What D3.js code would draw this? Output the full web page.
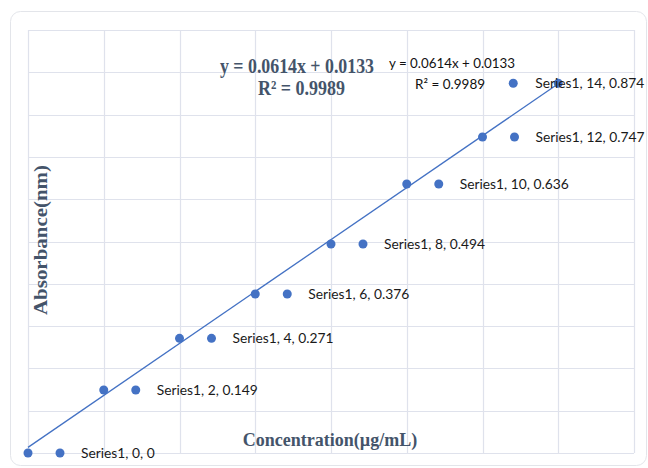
<!DOCTYPE html>
<html>
<head>
<meta charset="utf-8">
<script src="https://cdn.jsdelivr.net/npm/d3@7"></script>
<style>
  html, body { margin: 0; padding: 0; background: #fff; }
  svg { display: block; }
</style>
</head>
<body>
<div id="chart"></div>
<script>
const concentrations = [0, 2, 4, 6, 8, 10, 12, 14];
const absorbances = [0, 0.149, 0.271, 0.376, 0.494, 0.636, 0.747, 0.874];
const seriesName = "Series1";
const xGridTicks = [0, 2, 4, 6, 8, 10, 12, 14, 16];
const yGridTicks = [0, 0.1, 0.2, 0.3, 0.4, 0.5, 0.6, 0.7, 0.8, 0.9, 1.0];
const slope = 0.0614, intercept = 0.0133, rSquared = 0.9989;
const xTitle = "Concentration(µg/mL)";
const yTitle = "Absorbance(nm)";

const W = 648, H = 468;
const svg = d3.select("#chart").append("svg").attr("width", W).attr("height", H);

// card
svg.append("rect").attr("x", 10.5).attr("y", 11.5).attr("width", 636).attr("height", 454)
  .attr("rx", 10).attr("fill", "#fff").attr("stroke", "#e3e5ea").attr("stroke-width", 1);

const x = d3.scaleLinear().domain([0, 16]).range([28, 634]);
const y = d3.scaleLinear().domain([0, 1]).range([453, 30]);
const gridColor = "#dfe2ec";
const blue = "#4472C4";

const g = svg.append("g");
g.selectAll("line.vg").data(xGridTicks).join("line")
  .attr("x1", d => Math.round(x(d)) + 0.5).attr("x2", d => Math.round(x(d)) + 0.5)
  .attr("y1", y(0)).attr("y2", y(1)).attr("stroke", gridColor).attr("stroke-width", 1.2);
g.selectAll("line.hg").data(yGridTicks).join("line")
  .attr("y1", d => Math.round(y(d)) + 0.5).attr("y2", d => Math.round(y(d)) + 0.5)
  .attr("x1", x(0)).attr("x2", x(16)).attr("stroke", gridColor).attr("stroke-width", 1.2);

// trendline
const xMax = d3.max(concentrations);
svg.append("line")
  .attr("x1", x(0)).attr("y1", y(intercept))
  .attr("x2", x(xMax)).attr("y2", y(slope * xMax + intercept))
  .attr("stroke", blue).attr("stroke-width", 1.3);

const pts = concentrations.map((c, i) => ({ c, a: absorbances[i], last: i === concentrations.length - 1 }));

// data points
svg.selectAll("circle.pt").data(pts).join("circle")
  .attr("cx", d => x(d.c)).attr("cy", d => y(d.a)).attr("r", 4.5).attr("fill", blue);

// label markers and labels
svg.selectAll("circle.lm").data(pts).join("circle")
  .attr("cx", d => x(d.c) + (d.last ? -45 : 32)).attr("cy", d => y(d.a)).attr("r", 4.5).attr("fill", blue);
svg.selectAll("text.lbl").data(pts).join("text")
  .attr("x", d => x(d.c) + (d.last ? -23 : 53)).attr("y", d => y(d.a) + 5)
  .attr("font-family", "Lato, 'Open Sans', sans-serif").attr("font-size", 13.8)
  .attr("fill", "#1a1a1a")
  .text(d => `${seriesName}, ${d.c}, ${d.a}`);

// equation (large, bold serif)
const eqColor = "#44546A";
const serif = "'Liberation Serif', 'Times New Roman', serif";
svg.append("text").attr("x", 220).attr("y", 73)
  .attr("font-family", serif).attr("font-weight", "bold")
  .attr("font-size", 21).attr("fill", eqColor)
  .attr("textLength", 154).attr("lengthAdjust", "spacingAndGlyphs")
  .text(`y = ${slope}x + ${intercept}`);
svg.append("text").attr("x", 258).attr("y", 95)
  .attr("font-family", serif).attr("font-weight", "bold")
  .attr("font-size", 21).attr("fill", eqColor)
  .attr("textLength", 87).attr("lengthAdjust", "spacingAndGlyphs")
  .text(`R² = ${rSquared}`);

// equation (small)
svg.append("text").attr("x", 389).attr("y", 68)
  .attr("font-family", "Lato, 'Open Sans', sans-serif").attr("font-size", 13.5).attr("fill", "#111")
  .attr("textLength", 126).attr("lengthAdjust", "spacingAndGlyphs")
  .text(`y = ${slope}x + ${intercept}`);
svg.append("text").attr("x", 415).attr("y", 89)
  .attr("font-family", "Lato, 'Open Sans', sans-serif").attr("font-size", 13.5).attr("fill", "#111")
  .text(`R² = ${rSquared}`);

// axis titles
svg.append("text").attr("x", 330).attr("y", 446).attr("text-anchor", "middle")
  .attr("font-family", serif).attr("font-weight", "bold")
  .attr("font-size", 18).attr("fill", eqColor).text(xTitle);
svg.append("text").attr("transform", "translate(47,240) rotate(-90)").attr("text-anchor", "middle")
  .attr("font-family", serif).attr("font-weight", "bold")
  .attr("font-size", 18.5).attr("fill", eqColor)
  .attr("textLength", 150).attr("lengthAdjust", "spacingAndGlyphs")
  .text(yTitle);
</script>
</body>
</html>
